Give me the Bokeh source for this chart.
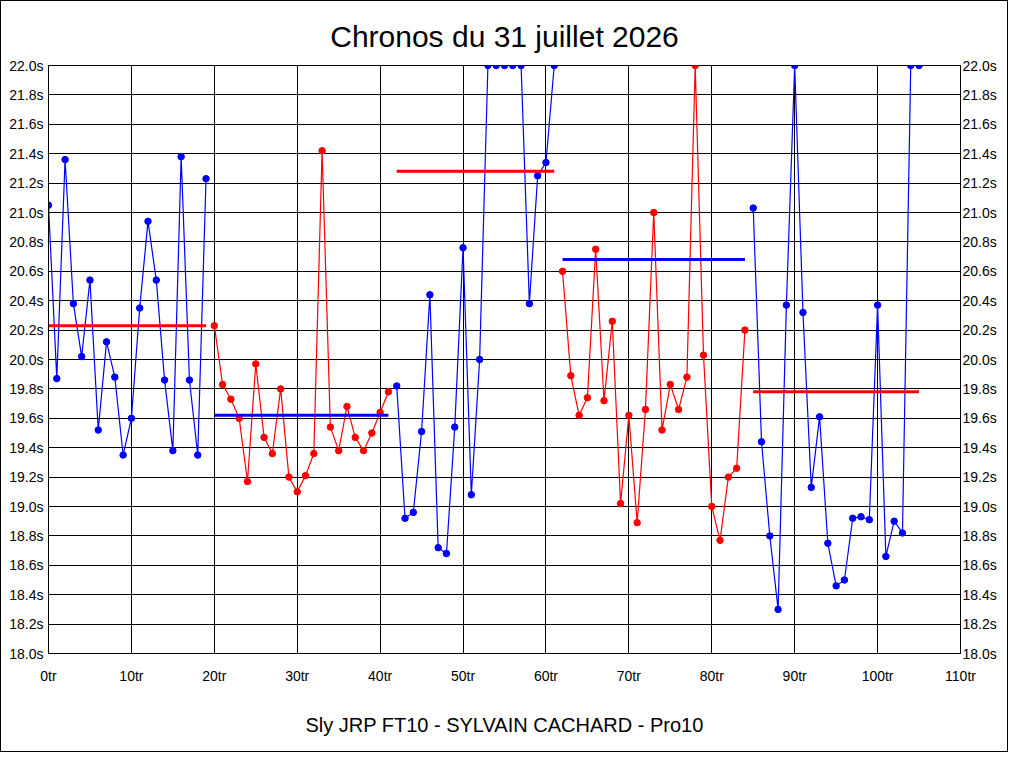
from bokeh.plotting import figure
from bokeh.models import Range1d, FixedTicker, PrintfTickFormatter, LinearAxis
from bokeh.embed import file_html
from bokeh.resources import INLINE

# ---- data ----
times = [
    21.05, 19.87, 21.36, 20.38, 20.02, 20.54, 19.52, 20.12, 19.88, 19.35,
    19.60, 20.35, 20.94, 20.54, 19.86, 19.38, 21.38, 19.86, 19.35, 21.23,
    20.23, 19.83, 19.73, 19.60, 19.17, 19.97, 19.47, 19.36, 19.80, 19.20,
    19.10, 19.21, 19.36, 21.42, 19.54, 19.38, 19.68, 19.47, 19.38, 19.50,
    19.64, 19.78, 19.82, 18.92, 18.96, 19.51, 20.44, 18.72, 18.68, 19.54,
    20.76, 19.08, 20.00, 22.00, 22.00, 22.00, 22.00, 22.00, 20.38, 21.25,
    21.34, 22.00, 20.60, 19.89, 19.62, 19.74, 20.75, 19.72, 20.26, 19.02,
    19.62, 18.89, 19.66, 21.00, 19.52, 19.83, 19.66, 19.88, 22.00, 20.03,
    19.00, 18.77, 19.20, 19.26, 20.20, 21.03, 19.44, 18.80, 18.30, 20.37,
    22.00, 20.32, 19.13, 19.61, 18.75, 18.46, 18.50, 18.92, 18.93, 18.91,
    20.37, 18.66, 18.90, 18.82, 22.00, 22.00,
]
seg_start = [0, 20, 42, 62, 85]
seg_end = [19, 41, 61, 84, 105]
seg_mean = [20.23, 19.62, 21.28, 20.68, 19.78]
seg_color = ["#0000FF", "#FF0000", "#0000FF", "#FF0000", "#0000FF"]
mean_color = ["#FF0000", "#0000FF", "#FF0000", "#0000FF", "#FF0000"]

x_ticks = [0, 10, 20, 30, 40, 50, 60, 70, 80, 90, 100, 110]
y_ticks = [18.0, 18.2, 18.4, 18.6, 18.8, 19.0, 19.2, 19.4, 19.6, 19.8, 20.0,
           20.2, 20.4, 20.6, 20.8, 21.0, 21.2, 21.4, 21.6, 21.8, 22.0]

title_text = "Chronos du 31 juillet 2026"
x_label = "Sly JRP FT10 - SYLVAIN CACHARD - Pro10"

FONT = "Liberation Sans"

p = figure(
    frame_width=912, frame_height=588,
    min_border_left=47, min_border_right=47,
    min_border_top=64, min_border_bottom=98,
    x_range=Range1d(0, 110), y_range=Range1d(18.0, 22.0),
    output_backend="svg", toolbar_location=None,
    title=title_text,
)
p.styles = {"border": "1px solid black"}

p.title.align = "center"
p.title.text_font = FONT
p.title.text_font_size = "30px"
p.title.text_font_style = "normal"
p.title.text_color = "black"
p.title.standoff = 26

p.outline_line_color = "black"
p.outline_line_alpha = 1.0
p.background_fill_color = "white"
p.border_fill_color = "white"

for ax in [p.xaxis[0], p.yaxis[0]]:
    ax.major_tick_line_color = None
    ax.minor_tick_line_color = None
    ax.major_tick_out = 0
    ax.major_tick_in = 0
    ax.axis_line_color = "black"
    ax.major_label_text_font = FONT
    ax.major_label_text_font_size = "14px"
    ax.major_label_text_color = "black"

p.xaxis.ticker = FixedTicker(ticks=x_ticks)
p.xaxis.formatter = PrintfTickFormatter(format="%dtr")
p.xaxis.major_label_standoff = 14
p.xaxis.axis_label = x_label
p.xaxis.axis_label_text_font = FONT
p.xaxis.axis_label_text_font_size = "20px"
p.xaxis.axis_label_text_font_style = "normal"
p.xaxis.axis_label_text_color = "black"
p.xaxis.axis_label_standoff = 27

p.yaxis.ticker = FixedTicker(ticks=y_ticks)
p.yaxis.formatter = PrintfTickFormatter(format="%.1fs")
p.yaxis.major_label_standoff = 5

right = LinearAxis(
    ticker=FixedTicker(ticks=y_ticks),
    formatter=PrintfTickFormatter(format="%.1fs"),
    major_tick_line_color=None, minor_tick_line_color=None,
    major_tick_out=0, major_tick_in=0,
    axis_line_color="black",
    major_label_text_font=FONT, major_label_text_font_size="14px",
    major_label_text_color="black", major_label_standoff=2,
)
p.add_layout(right, "right")

p.xgrid.ticker = FixedTicker(ticks=x_ticks)
p.ygrid.ticker = FixedTicker(ticks=y_ticks)
for g in [p.xgrid[0], p.ygrid[0]]:
    g.grid_line_color = "black"
    g.grid_line_alpha = 1.0
    g.grid_line_width = 1

# series
for s, e, c in zip(seg_start, seg_end, seg_color):
    xs = list(range(s, e + 1))
    ys = times[s:e + 1]
    p.line(xs, ys, line_color=c, line_width=1.2)
    p.scatter(xs, ys, size=6.5, fill_color=c, line_color=c)

# segment means
for s, e, m, c in zip(seg_start, seg_end, seg_mean, mean_color):
    p.line([s, e], [m, m], line_color=c, line_width=3)

open("out.html", "w").write(file_html(p, INLINE))
